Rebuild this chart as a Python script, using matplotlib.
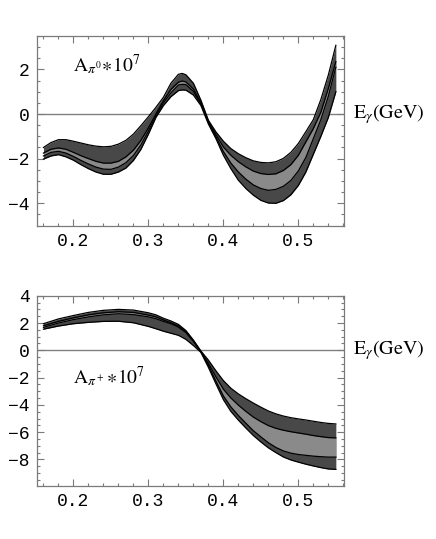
import matplotlib
matplotlib.use("Agg")
import matplotlib.pyplot as plt
from matplotlib.ticker import MultipleLocator
import numpy as np

# ---- data: top panel (A_pi0 * 1e7) ----
x_top = [0.16, 0.17, 0.18, 0.19, 0.20, 0.21, 0.22, 0.23, 0.24, 0.25,
         0.26, 0.27, 0.28, 0.29, 0.30, 0.31, 0.32, 0.33, 0.34, 0.345,
         0.35, 0.36, 0.37, 0.38, 0.39, 0.40, 0.41, 0.42, 0.43, 0.44,
         0.45, 0.46, 0.47, 0.48, 0.49, 0.50, 0.51, 0.52, 0.53, 0.54, 0.55]
top_outer_hi = [-1.50, -1.28, -1.15, -1.15, -1.22, -1.30, -1.38, -1.44, -1.47, -1.45,
                -1.35, -1.18, -0.90, -0.52, -0.12, 0.30, 0.75, 1.38, 1.78, 1.82,
                1.76, 1.38, 0.62, -0.28, -0.80, -1.22, -1.55, -1.78, -1.96, -2.10,
                -2.17, -2.19, -2.14, -1.99, -1.72, -1.32, -0.79, -0.25, 0.65, 1.75, 3.08]
top_inner_hi = [-1.75, -1.58, -1.52, -1.58, -1.72, -1.87, -2.00, -2.12, -2.20, -2.20,
                -2.12, -1.92, -1.62, -1.18, -0.62, 0.00, 0.60, 1.10, 1.43, 1.48,
                1.44, 1.12, 0.50, -0.33, -0.92, -1.48, -1.85, -2.14, -2.37, -2.56,
                -2.67, -2.71, -2.68, -2.53, -2.27, -1.85, -1.25, -0.65, 0.08, 1.15, 2.35]
top_inner_lo = [-1.88, -1.72, -1.67, -1.75, -1.90, -2.08, -2.24, -2.38, -2.47, -2.48,
                -2.38, -2.18, -1.86, -1.38, -0.76, -0.08, 0.50, 0.95, 1.30, 1.33,
                1.32, 1.02, 0.45, -0.38, -1.02, -1.68, -2.20, -2.60, -2.92, -3.18,
                -3.34, -3.42, -3.38, -3.24, -2.98, -2.55, -1.95, -1.10, -0.25, 0.80, 2.10]
top_outer_lo = [-2.02, -1.88, -1.82, -1.92, -2.07, -2.27, -2.45, -2.60, -2.70, -2.70,
                -2.60, -2.42, -2.08, -1.58, -0.90, -0.15, 0.38, 0.78, 1.05, 1.08,
                1.07, 0.85, 0.38, -0.45, -1.10, -1.85, -2.45, -2.97, -3.34, -3.64,
                -3.87, -3.99, -4.00, -3.88, -3.62, -3.20, -2.60, -1.80, -1.00, -0.15, 1.00]

# ---- data: bottom panel (A_pi+ * 1e7) ----
x_bot = [0.16, 0.18, 0.20, 0.22, 0.24, 0.26, 0.28, 0.30, 0.31, 0.32,
         0.33, 0.34, 0.35, 0.36, 0.37, 0.38, 0.39, 0.40, 0.41, 0.42,
         0.43, 0.44, 0.45, 0.46, 0.47, 0.48, 0.49, 0.50, 0.51, 0.52,
         0.53, 0.54, 0.55]
bot_outer_hi = [1.95, 2.30, 2.55, 2.78, 2.93, 3.00, 2.95, 2.75, 2.60, 2.35,
                2.15, 1.90, 1.45, 0.75, -0.05, -0.72, -1.50, -2.22, -2.78, -3.20,
                -3.55, -3.87, -4.17, -4.45, -4.66, -4.82, -4.94, -5.03, -5.11, -5.20,
                -5.29, -5.36, -5.40]
bot_inner_hi = [1.80, 2.12, 2.38, 2.60, 2.75, 2.83, 2.78, 2.58, 2.45, 2.22,
                2.02, 1.78, 1.35, 0.70, -0.10, -0.95, -1.95, -2.85, -3.50, -4.02,
                -4.48, -4.90, -5.23, -5.52, -5.72, -5.86, -5.97, -6.06, -6.15, -6.25,
                -6.33, -6.40, -6.42]
bot_inner_lo = [1.68, 2.00, 2.25, 2.45, 2.60, 2.68, 2.62, 2.45, 2.32, 2.12,
                1.95, 1.70, 1.30, 0.65, -0.12, -1.10, -2.25, -3.35, -4.15, -4.78,
                -5.35, -5.90, -6.35, -6.78, -7.12, -7.38, -7.54, -7.64, -7.70, -7.76,
                -7.80, -7.83, -7.83]
bot_outer_lo = [1.55, 1.78, 1.95, 2.05, 2.12, 2.13, 2.02, 1.75, 1.58, 1.40,
                1.25, 1.10, 0.80, 0.35, -0.15, -1.25, -2.45, -3.62, -4.48, -5.12,
                -5.70, -6.25, -6.72, -7.15, -7.50, -7.82, -8.04, -8.20, -8.35, -8.48,
                -8.60, -8.70, -8.73]

label_top = r'$\mathrm{A}_{\pi^0}\!\ast\!10^7$'
label_bot = r'$\mathrm{A}_{\pi^+}\!\ast\!10^7$'
xlabel = r'$\mathrm{E}_\gamma\mathrm{(GeV)}$'
xticks = [0.2, 0.3, 0.4, 0.5]

plt.rcParams['mathtext.fontset'] = 'stix'

DARK = '#484848'
LIGHT = '#8a8a8a'
FRAME = '#7a7a7a'

fig = plt.figure(figsize=(4.36, 5.39), dpi=100)
ax1 = fig.add_axes([0.0842, 0.5807, 0.705, 0.353])
ax2 = fig.add_axes([0.0842, 0.0983, 0.705, 0.353])


def draw(ax, x, oh, ih, il, ol, ylim, yticks, label, lab_xy):
    ax.fill_between(x, ol, oh, color=DARK, lw=0, zorder=2)
    ax.fill_between(x, il, ih, color=LIGHT, lw=0, zorder=3)
    for c in (oh, ih, il, ol):
        ax.plot(x, c, color='black', lw=0.9, zorder=4)
    ax.axhline(0, color='#808080', lw=1.0, zorder=1)
    ax.set_xlim(0.151, 0.561)
    ax.set_ylim(*ylim)
    ax.set_xticks(xticks)
    ax.set_yticks(yticks)
    ax.xaxis.set_minor_locator(MultipleLocator(0.02))
    ax.yaxis.set_minor_locator(MultipleLocator(0.5))
    ax.tick_params(which='both', direction='in', top=True, right=True,
                   color=FRAME, width=0.8)
    ax.tick_params(which='major', length=5, labelsize=13, pad=5)
    ax.tick_params(which='minor', length=2.5)
    for lab in ax.get_xticklabels() + ax.get_yticklabels():
        lab.set_fontfamily('Liberation Mono')
    for s in ax.spines.values():
        s.set_color(FRAME)
        s.set_linewidth(0.9)
    ax.text(lab_xy[0], lab_xy[1], label, fontsize=14, ha='left',
            va='baseline', zorder=5)
    ax.text(1.03, 0, xlabel, transform=ax.get_yaxis_transform(),
            fontsize=14.5, ha='left', va='center', clip_on=False)


draw(ax1, x_top, top_outer_hi, top_inner_hi, top_inner_lo, top_outer_lo,
     (-5.02, 3.51), [-4, -2, 0, 2], label_top, (0.199, 1.9))
draw(ax2, x_bot, bot_outer_hi, bot_inner_hi, bot_inner_lo, bot_outer_lo,
     (-9.95, 4.0), [-8, -6, -4, -2, 0, 2, 4], label_bot, (0.199, -2.45))

fig.savefig('out.png', dpi=100)
